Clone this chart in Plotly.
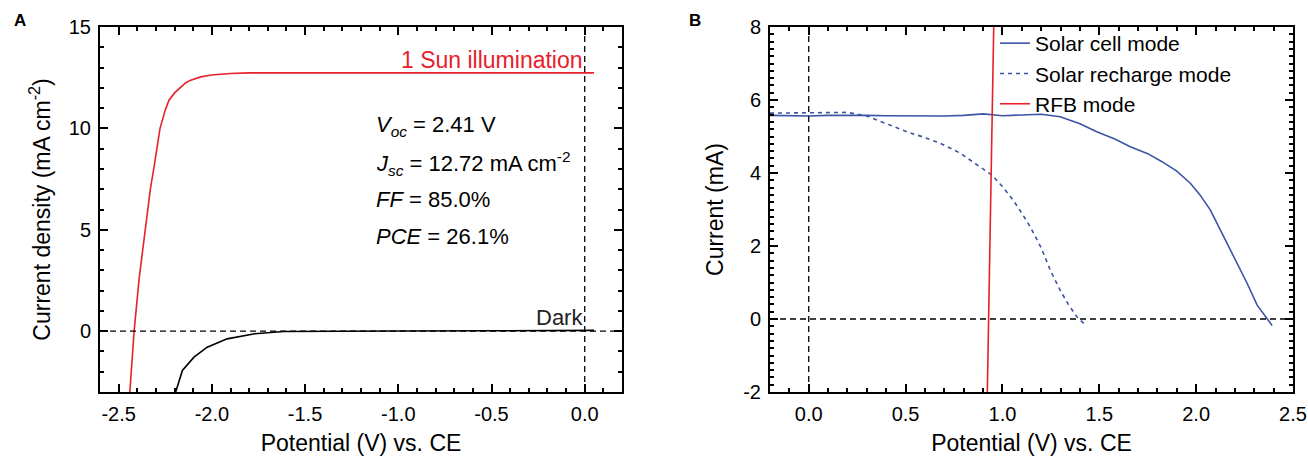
import plotly.graph_objects as go

# ---------------- Panel A data ----------------
light_x = [-2.44, -2.417, -2.39, -2.359, -2.33, -2.31, -2.278, -2.25, -2.23, -2.20, -2.167, -2.14,
           -2.113, -2.06, -2.0, -1.9, -1.8, -1.6, -1.4, -1.2, -1.0, -0.8, -0.6, -0.4, -0.2, 0.0, 0.05]
light_y = [-3.0, 0.0, 2.6, 5.0, 7.0, 8.1, 10.0, 10.9, 11.39, 11.75, 12.05, 12.25,
           12.38, 12.54, 12.63, 12.71, 12.74, 12.74, 12.73, 12.75, 12.73, 12.74, 12.72, 12.74, 12.73, 12.72, 12.74]
dark_x = [-2.194, -2.158, -2.096, -2.025, -1.918, -1.77, -1.616, -1.4, -1.0, -0.5, 0.0, 0.05]
dark_y = [-3.0, -1.94, -1.28, -0.79, -0.38, -0.13, -0.02, 0.0, 0.01, 0.02, 0.03, 0.04]

# ---------------- Panel B data ----------------
cell_x = [-0.2, -0.1, 0.0, 0.1, 0.2, 0.3, 0.4, 0.5, 0.6, 0.7, 0.8, 0.9, 1.0, 1.1, 1.2, 1.298, 1.4,
          1.487, 1.58, 1.66, 1.75, 1.824, 1.9, 1.97, 2.02, 2.073, 2.125, 2.177, 2.22, 2.263, 2.315, 2.358, 2.392]
cell_y = [5.58, 5.57, 5.56, 5.58, 5.59, 5.58, 5.57, 5.56, 5.57, 5.56, 5.58, 5.62, 5.57, 5.59, 5.61, 5.54, 5.35,
          5.13, 4.93, 4.72, 4.53, 4.31, 4.05, 3.72, 3.40, 2.99, 2.44, 1.89, 1.42, 0.98, 0.38, 0.06, -0.18]
recharge_x = [-0.2, -0.1, 0.0, 0.1, 0.2, 0.3, 0.4, 0.507, 0.6, 0.68, 0.78, 0.888, 0.944, 1.0, 1.055,
              1.1, 1.143, 1.2, 1.25, 1.298, 1.34, 1.384, 1.427]
recharge_y = [5.64, 5.65, 5.66, 5.66, 5.66, 5.56, 5.36, 5.13, 4.97, 4.81, 4.55, 4.17, 3.95, 3.63, 3.26,
              2.90, 2.53, 1.95, 1.30, 0.79, 0.40, 0.06, -0.16]
rfb_x = [0.922, 0.955]
rfb_y = [-2.0, 8.0]

# ---------------- tick labels ----------------
a_xticks = [-2.5, -2.0, -1.5, -1.0, -0.5, 0.0]
a_xlabels = ["-2.5", "-2.0", "-1.5", "-1.0", "-0.5", "0.0"]
a_yticks = [0, 5, 10, 15]
a_ylabels = ["0", "5", "10", "15"]
b_xticks = [0.0, 0.5, 1.0, 1.5, 2.0, 2.5]
b_xlabels = ["0.0", "0.5", "1.0", "1.5", "2.0", "2.5"]
b_yticks = [-2, 0, 2, 4, 6, 8]
b_ylabels = ["-2", "0", "2", "4", "6", "8"]

RED = "#e8202a"
BLUE = "#3b54a5"
FONT = "Liberation Sans, Arial, Helvetica, sans-serif"
W, H = 1308, 456

fig = go.Figure()
fig.add_trace(go.Scatter(x=light_x, y=light_y, mode="lines", line=dict(color=RED, width=1.6),
                         showlegend=False, xaxis="x", yaxis="y"))
fig.add_trace(go.Scatter(x=dark_x, y=dark_y, mode="lines", line=dict(color="black", width=1.6),
                         showlegend=False, xaxis="x", yaxis="y"))
fig.add_trace(go.Scatter(x=cell_x, y=cell_y, mode="lines", name="Solar cell mode",
                         line=dict(color=BLUE, width=1.6), xaxis="x2", yaxis="y2"))
fig.add_trace(go.Scatter(x=recharge_x, y=recharge_y, mode="lines", name="Solar recharge mode",
                         line=dict(color=BLUE, width=1.6, dash="4px,4px"), xaxis="x2", yaxis="y2"))
fig.add_trace(go.Scatter(x=rfb_x, y=rfb_y, mode="lines", name="RFB mode",
                         line=dict(color=RED, width=1.6), xaxis="x2", yaxis="y2"))

ydom = [1 - 392 / H, 1 - 27 / H]

def axis(rng, vals, labels, mdtick, dom, anchor, title, standoff):
    return dict(range=rng, tickmode="array", tickvals=vals, ticktext=labels,
                domain=dom, anchor=anchor, automargin=False,
                showline=True, linewidth=2, linecolor="black", mirror="allticks",
                ticks="inside", ticklen=8, tickwidth=2, tickcolor="black",
                ticklabelstandoff=3,
                minor=dict(tickmode="linear", tick0=0, dtick=mdtick, ticks="inside",
                           ticklen=4, tickwidth=2, tickcolor="black"),
                showgrid=False, zeroline=False,
                tickfont=dict(family=FONT, size=20, color="black"),
                title=dict(text=title, font=dict(family=FONT, size=23, color="black"), standoff=standoff))

fig.update_layout(
    width=W, height=H, margin=dict(l=0, r=0, t=0, b=0, autoexpand=False),
    plot_bgcolor="white", paper_bgcolor="white",
    font=dict(family=FONT, color="black"),
    xaxis=axis([-2.6, 0.2], a_xticks, a_xlabels, 0.1, [100 / W, 622 / W], "y",
               "Potential (V) vs. CE", 16),
    yaxis=axis([-3, 15], a_yticks, a_ylabels, 1, ydom, "x",
               "Current density (mA cm<sup>-2</sup>)", 12),
    xaxis2=axis([-0.2, 2.5], b_xticks, b_xlabels, 0.1, [770 / W, 1293 / W], "y2",
                "Potential (V) vs. CE", 16),
    yaxis2=axis([-2, 8], b_yticks, b_ylabels, 0.2, ydom, "x2", "Current (mA)", 13),
    legend=dict(x=995 / W, y=1 - 23 / H, xanchor="left", yanchor="top",
                bgcolor="rgba(0,0,0,0)", font=dict(family=FONT, size=21, color="black"),
                itemwidth=30, tracegroupgap=0),
)

dash_line = dict(color="black", width=1.3, dash="6px,4px")
fig.add_shape(type="line", xref="x", yref="y domain", x0=0, x1=0, y0=0, y1=1, line=dash_line)
fig.add_shape(type="line", xref="x domain", yref="y", x0=0, x1=1, y0=0, y1=0, line=dash_line)
fig.add_shape(type="line", xref="x2", yref="y2 domain", x0=0, x1=0, y0=0, y1=1, line=dash_line)
fig.add_shape(type="line", xref="x2 domain", yref="y2", x0=0, x1=1, y0=0, y1=0, line=dash_line)

ann_font = dict(family=FONT, size=22, color="black")
fig.add_annotation(x=0.004, y=13.37, xref="x", yref="y", text="1 Sun illumination", showarrow=False,
                   xanchor="right", yanchor="middle", font=dict(family=FONT, size=23, color=RED))
fig.add_annotation(x=0.004, y=0.68, xref="x", yref="y", text="Dark", showarrow=False,
                   xanchor="right", yanchor="middle", font=dict(family=FONT, size=22, color="#222222"))
param_lines = [
    ("<i>V</i><sub><i>oc</i></sub> = 2.41 V", 10.1),
    ("<i>J</i><sub><i>sc</i></sub> = 12.72 mA cm<sup>-2</sup>", 8.28),
    ("<i>FF</i> = 85.0%", 6.5),
    ("<i>PCE</i> = 26.1%", 4.68),
]
for txt, yy in param_lines:
    fig.add_annotation(x=-1.13, y=yy, xref="x", yref="y", text=txt, showarrow=False,
                       xanchor="left", yanchor="middle", font=ann_font)

fig.add_annotation(x=20 / W, y=1 - 20 / H, xref="paper", yref="paper", text="<b>A</b>", showarrow=False,
                   xanchor="center", yanchor="middle", font=dict(family=FONT, size=17, color="black"))
fig.add_annotation(x=695 / W, y=1 - 20 / H, xref="paper", yref="paper", text="<b>B</b>", showarrow=False,
                   xanchor="center", yanchor="middle", font=dict(family=FONT, size=17, color="black"))

fig.write_html("out.html", config={"displayModeBar": False},
               post_script="document.body.style.margin='0';")
